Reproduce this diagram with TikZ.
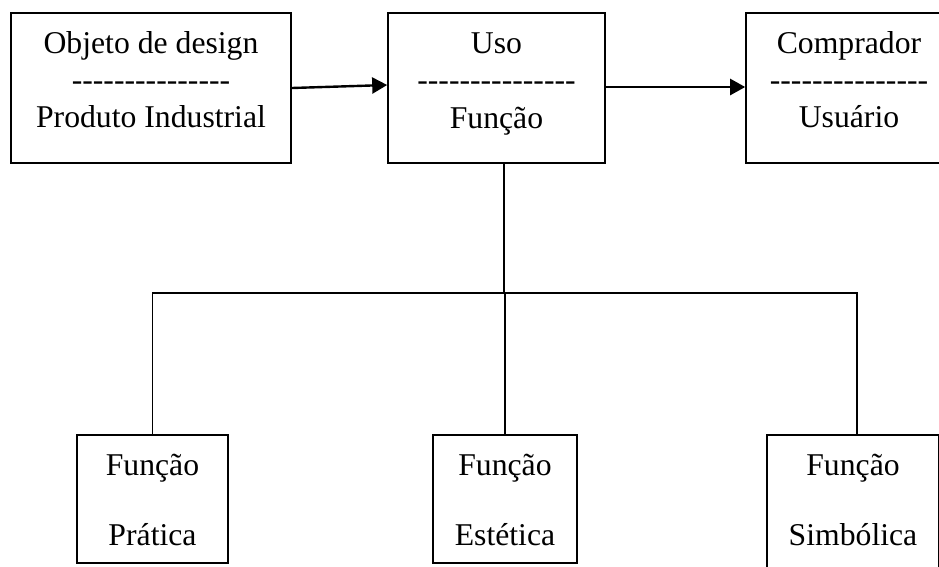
\documentclass[tikz,border=0pt]{standalone}
\usepackage{fontspec}
\setmainfont{Liberation Serif}
\usetikzlibrary{arrows.meta}
\newcommand\hyrow{-\kern0pt-\kern0pt-\kern0pt-\kern0pt-\kern0pt-\kern0pt-\kern0pt-\kern0pt-\kern0pt-\kern0pt-\kern0pt-\kern0pt-\kern0pt-\kern0pt-}
\begin{document}
\begin{tikzpicture}[x=1pt,y=-1pt,
  box/.style={draw, line width=1.6pt, inner sep=0pt},
  txt/.style={font=\fontsize{31.7}{38}\selectfont, anchor=base, inner sep=0pt},
  conn/.style={line width=1.8pt},
  arr/.style={line width=2.4pt,-{Triangle[length=15pt,width=16pt]}}]
\useasboundingbox (0,0) rectangle (939,566);
\clip (0,0) rectangle (939,566);
% top boxes
\node[box, minimum width=280pt, minimum height=150pt] (b1) at (151,88) {};
\node[box, minimum width=217pt, minimum height=150pt] (b2) at (496.5,88) {};
\node[box, minimum width=206pt, minimum height=150pt] (b3) at (849,88) {};
\node[txt] (t1a) at (151,53) {Objeto de design};
\node[txt] (t1b) at (151,90) {\hyrow};
\node[txt] (t1c) at (151,127) {Produto Industrial};
\node[txt] (t2a) at (496.5,53) {Uso};
\node[txt] (t2b) at (496.5,90) {\hyrow};
\node[txt] (t2c) at (496.5,128) {Função};
\node[txt] (t3a) at (849,53) {Comprador};
\node[txt] (t3b) at (849,90) {\hyrow};
\node[txt] (t3c) at (849,127) {Usuário};
% bottom boxes
\node[box, minimum width=151pt, minimum height=128pt] (f1) at (152.5,499) {};
\node[box, minimum width=144pt, minimum height=128pt] (f2) at (505,499) {};
\node[box, minimum width=172pt, minimum height=140pt] (f3) at (853,505) {};
\node[txt] (u1a) at (152.5,475) {Função};
\node[txt] (u1b) at (152.5,545) {Prática};
\node[txt] (u2a) at (505,475) {Função};
\node[txt] (u2b) at (505,545) {Estética};
\node[txt] (u3a) at (853,475) {Função};
\node[txt] (u3b) at (853,545) {Simbólica};
% connectors
\draw[arr] (b1.east) -- ([yshift=3pt]b2.west);
\draw[arr] ([yshift=1pt]b2.east) -- ([yshift=1pt]b3.west);
\coordinate (j) at (504,293);
\draw[conn] (b2.south -| j) -- (j);
\draw[conn] (f1.north) |- (j) -| ([xshift=4pt]f3.north);
\draw[conn] (f2.north) -- (f2.north |- j);
\end{tikzpicture}
\end{document}
